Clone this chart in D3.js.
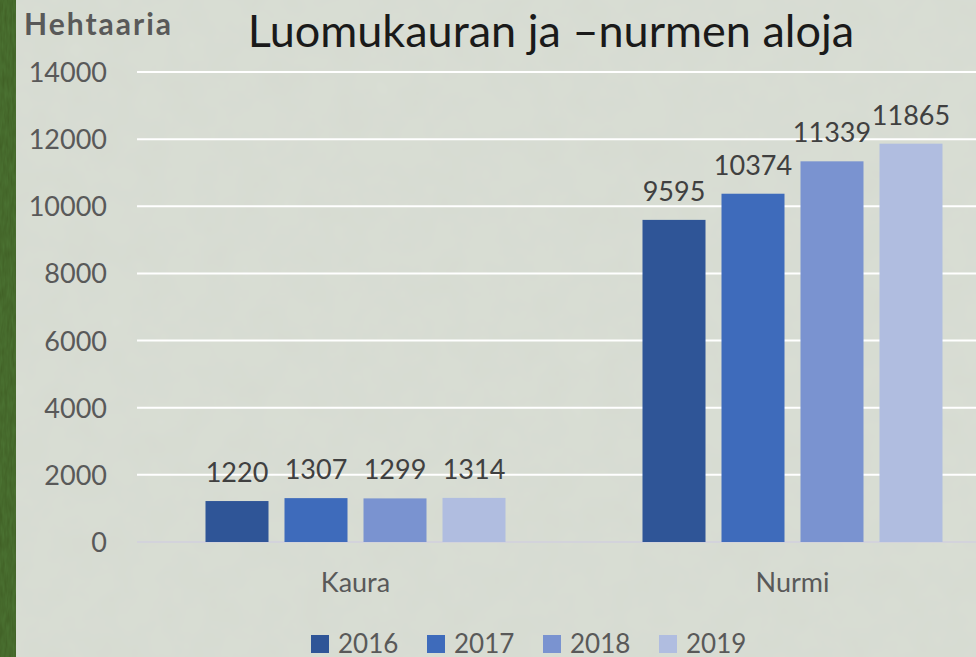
<!DOCTYPE html>
<html>
<head>
<meta charset="utf-8">
<script src="https://cdn.jsdelivr.net/npm/d3@7"></script>
<style>
  body { margin: 0; background: #d9ddd3; overflow: hidden; }
  text { font-family: Lato, "Open Sans", sans-serif; }
</style>
</head>
<body>
<div class="chart"></div>
<script>
// data
const categories = ["Kaura", "Nurmi"];
const years = ["2016", "2017", "2018", "2019"];
const kaura = [1220, 1307, 1299, 1314];
const nurmi = [9595, 10374, 11339, 11865];
const yTicks = [0, 2000, 4000, 6000, 8000, 10000, 12000, 14000];
const colors = ["#2f5597", "#3e6bbb", "#7a93d0", "#b0bde0"];

const values = [kaura, nurmi];

let outWidth = 976, outHeight = 657;

const svg = d3.select(".chart").append("svg")
    .attr("width", outWidth)
    .attr("height", outHeight);

// background texture
const defs = svg.append("defs");
const f = defs.append("filter").attr("id", "noise").attr("x", 0).attr("y", 0).attr("width", "100%").attr("height", "100%");
f.append("feTurbulence").attr("type", "fractalNoise").attr("baseFrequency", 0.03).attr("numOctaves", 3).attr("result", "t");
f.append("feColorMatrix").attr("type", "matrix")
    .attr("values", "0 0 0 0 0.5  0 0 0 0 0.5  0 0 0 0 0.5  0 0 0 0.10 0");
const g2 = defs.append("filter").attr("id", "grass").attr("x", 0).attr("y", 0).attr("width", "100%").attr("height", "100%");
g2.append("feTurbulence").attr("type", "fractalNoise").attr("baseFrequency", "0.4 0.08").attr("numOctaves", 2);
g2.append("feColorMatrix").attr("type", "matrix")
    .attr("values", "0 0 0 0 0.08  0 0 0 0 0.2  0 0 0 0 0.04  0 0 0 0.8 0");

svg.append("rect").attr("width", outWidth).attr("height", outHeight).attr("fill", "#d9ded4");
svg.append("rect").attr("width", outWidth).attr("height", outHeight).attr("filter", "url(#noise)");
svg.append("rect").attr("width", 16).attr("height", outHeight).attr("fill", "#3f5e24");
svg.append("rect").attr("width", 16).attr("height", outHeight).attr("filter", "url(#grass)");

// scales
const x0 = d3.scaleBand().domain(categories).range([137, 1011]);
const x1 = d3.scaleBand().domain(years).range([68.5, 437 - 68.5]).paddingInner(16 / 79).paddingOuter(0);
const y = d3.scaleLinear().domain([0, 14000]).range([542, 72]);

// gridlines
svg.append("g")
  .selectAll("line")
  .data(yTicks)
  .join("line")
    .attr("x1", 137).attr("x2", outWidth)
    .attr("y1", d => y(d)).attr("y2", d => y(d))
    .attr("stroke", d => d === 0 ? "#d3d3db" : "#ffffff")
    .attr("stroke-width", 2);

// y axis labels
const yAxis = d3.axisLeft(y).tickValues(yTicks).tickSize(0).tickPadding(0).tickFormat(d3.format("d"));
svg.append("g")
    .attr("transform", "translate(107,0)")
    .call(yAxis)
    .call(g => g.select(".domain").remove())
    .selectAll("text")
    .attr("font-size", 27)
    .attr("fill", "#595959")
    .attr("dy", "0.35em")
    .style("font-family", "Lato, sans-serif");

// bars
const groups = svg.append("g")
  .selectAll("g")
  .data(categories)
  .join("g")
    .attr("transform", d => `translate(${x0(d)},0)`);

groups.selectAll("rect")
  .data((d, i) => values[i].map((v, j) => ({year: years[j], v: v, j: j})))
  .join("rect")
    .attr("x", d => x1(d.year))
    .attr("width", x1.bandwidth())
    .attr("y", d => y(d.v))
    .attr("height", d => y(0) - y(d.v))
    .attr("fill", d => colors[d.j]);

groups.selectAll("text.lbl")
  .data((d, i) => values[i].map((v, j) => ({year: years[j], v: v, j: j})))
  .join("text")
    .attr("class", "lbl")
    .attr("x", d => x1(d.year) + x1.bandwidth() / 2)
    .attr("y", d => y(d.v) - 19)
    .attr("text-anchor", "middle")
    .attr("font-size", 27)
    .attr("fill", "#404040")
    .text(d => d.v);

// category labels
svg.append("g")
  .selectAll("text")
  .data(categories)
  .join("text")
    .attr("x", d => x0(d) + x0.bandwidth() / 2)
    .attr("y", 592)
    .attr("text-anchor", "middle")
    .attr("font-size", 27)
    .attr("fill", "#595959")
    .text(d => d);

// legend
const legend = svg.append("g")
  .selectAll("g")
  .data(years)
  .join("g")
    .attr("transform", (d, i) => `translate(${311 + i * 116},635)`);
legend.append("rect").attr("width", 18).attr("height", 18).attr("fill", (d, i) => colors[i]);
legend.append("text")
    .attr("x", 27).attr("y", 18)
    .attr("font-size", 26)
    .attr("fill", "#595959")
    .text(d => d);

// titles
svg.append("text")
    .attr("x", 24).attr("y", 35)
    .attr("font-size", 30)
    .attr("font-weight", "bold")
    .attr("letter-spacing", 2)
    .attr("fill", "#595959")
    .text("Hehtaaria");

svg.append("text")
    .attr("x", 551).attr("y", 47)
    .attr("text-anchor", "middle")
    .attr("font-size", 45)
    .attr("fill", "#1a1a1a")
    .text("Luomukauran ja –nurmen aloja");
</script>
</body>
</html>
